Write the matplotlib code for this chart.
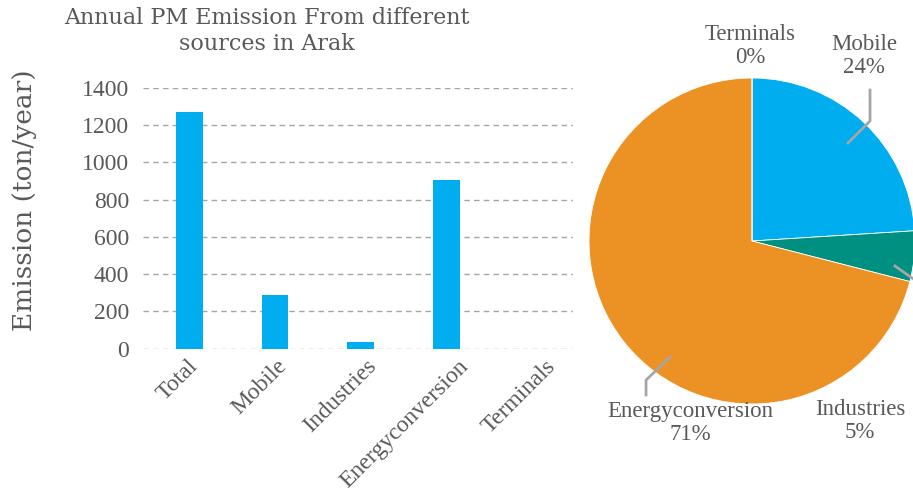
import matplotlib
matplotlib.use("Agg")
import matplotlib.pyplot as plt

# bar chart data (ton/year)
sources = ["Total", "Mobile", "Industries", "Energyconversion", "Terminals"]
emission = [1270, 288, 35, 906, 0]

# pie chart shares (%)
pie_labels = ["Mobile", "Industries", "Energyconversion", "Terminals"]
pie_share = [24, 5, 71, 0]
pie_colors = ["#00ADEE", "#009081", "#EC9123", "#7F7F7F"]

TXT = "#595959"
SERIF = ["Liberation Serif", "DejaVu Serif"]
WIDE = "DejaVu Serif"

W, H = 913, 491
fig = plt.figure(figsize=(W / 100, H / 100), dpi=100)

# ---- bar chart ----
ax = fig.add_axes([143 / W, (H - 348.7) / H, 430 / W, 260.7 / H])
x = list(range(len(sources)))
ax.bar(x, emission, width=0.31, color="#00AEEF", zorder=3)
ax.set_xlim(-0.54, 4.48)
ax.set_ylim(0, 1400)
ax.set_yticks(range(0, 1401, 200))
ax.yaxis.grid(True, linestyle=(0, (4, 3)), color="#A6A6A6", linewidth=1.0, zorder=0)
for s in ax.spines.values():
    s.set_visible(False)
ax.tick_params(length=0, labelcolor=TXT)
ax.tick_params(axis="y", pad=10, labelsize=17)
ax.set_xticks(x)
ax.set_xticklabels([])
for lab in ax.get_yticklabels():
    lab.set_fontfamily(SERIF)

# category labels, rotated like the original (spread slightly wider than the bars)
label_shift = [-2, 1, 5, 12, 13]
for i, name in enumerate(sources):
    ax.annotate(name, xy=(i, 0), xycoords=("data", "axes fraction"),
                xytext=(label_shift[i], -7), textcoords="offset pixels",
                rotation=45, ha="right", va="top", rotation_mode="anchor",
                fontsize=17, color=TXT, fontfamily=SERIF)

fig.text(25 / W, 1 - 200 / H, "Emission (ton/year)", rotation=90, ha="center",
         va="center", fontsize=19, color=TXT, fontfamily=WIDE)
fig.text(267 / W, 1 - 31 / H, "Annual PM Emission From different\nsources in Arak",
         ha="center", va="center", fontsize=16, color=TXT, fontfamily=WIDE,
         linespacing=1.25)

# ---- pie chart ----
cx, cy, r = 752, 241, 163
pax = fig.add_axes([(cx - r) / W, (H - cy - r) / H, 2 * r / W, 2 * r / H])
pax.pie(pie_share, colors=pie_colors, startangle=90, counterclock=False,
        wedgeprops=dict(linewidth=0.6, edgecolor="white"))
pax.set_xlim(-1, 1)
pax.set_ylim(-1, 1)
pax.set_aspect("auto")
pax.axis("off")

label_pos = {
    "Mobile": (0.687, 1.135),
    "Industries": (0.663, -1.105),
    "Energyconversion": (-0.38, -1.115),
    "Terminals": (-0.012, 1.196),
}
for name, share in zip(pie_labels, pie_share):
    px, py = label_pos[name]
    pax.text(px, py, f"{name}\n{share}%", ha="center", va="center", fontsize=16.5,
             color=TXT, fontfamily=SERIF, linespacing=1.1, clip_on=False)

leader = dict(color="#A6A6A6", linewidth=2, clip_on=False)
pax.plot([0.589, 0.724, 0.724], [0.601, 0.736, 0.926], **leader)
pax.plot([-0.503, -0.650, -0.650], [-0.712, -0.853, -0.945], **leader)
pax.plot([0.877, 1.0], [-0.153, -0.24], **leader)

fig.savefig("out.png", dpi=100)
